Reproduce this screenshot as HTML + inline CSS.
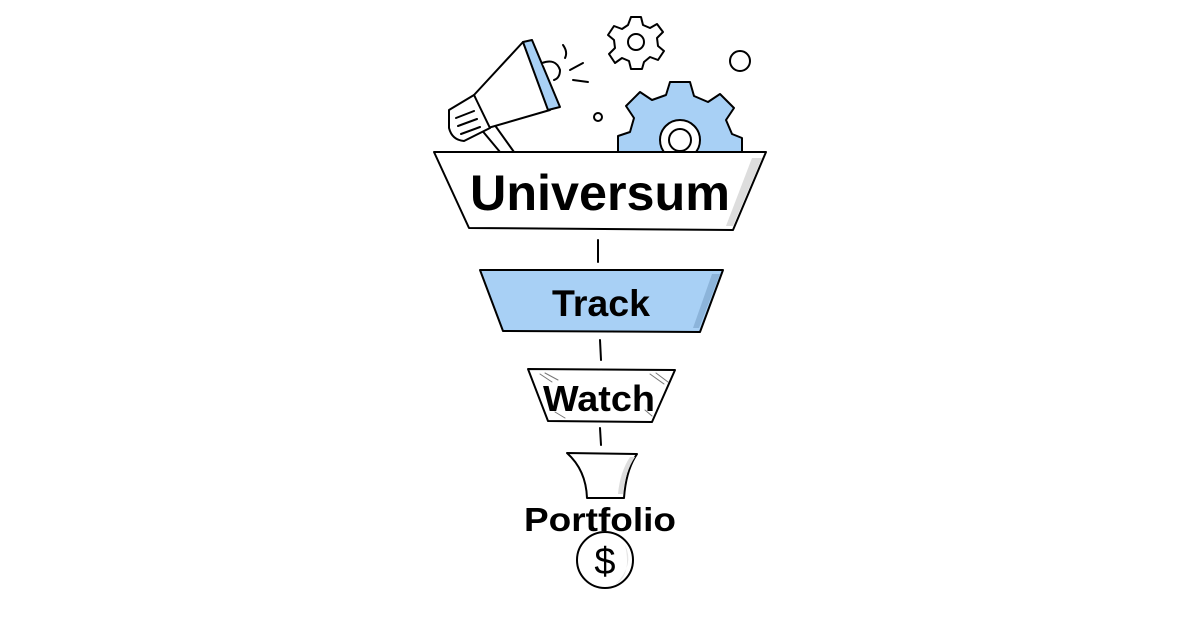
<!DOCTYPE html>
<html><head><style>
html,body{margin:0;padding:0;background:#fff;width:1200px;height:630px;overflow:hidden}
svg{display:block}
text{font-family:"Liberation Sans",sans-serif;font-weight:bold;fill:#000;text-anchor:middle}
</style></head><body>
<svg width="1200" height="630" viewBox="0 0 1200 630" xmlns="http://www.w3.org/2000/svg">
<g stroke="#000" stroke-width="2" stroke-linejoin="round" stroke-linecap="round">
<g transform="translate(636,42)">
<path fill="#fff" d="M-5,-25 L5,-25 L7,-17 L14,-14 L21,-18 L27,-10 L21,-4 L22,4 L28,9 L22,18 L14,15 L8,20 L6,27 L-5,27 L-7,19 L-14,16 L-21,21 L-27,12 L-21,6 L-22,-2 L-28,-7 L-22,-16 L-14,-13 L-8,-17 Z"/>
<circle r="8" fill="#fff"/>
</g>
<circle cx="740" cy="61" r="10" fill="#fff"/>
<circle cx="598" cy="117" r="4" fill="#fff"/>
<g transform="translate(680,140)">
<path fill="#a8d0f5" d="M-10,-58 L10,-58 L14,-44 L28,-38 L40,-46 L54,-32 L46,-20 L52,-6 L62,-2 L62,14 L-62,14 L-62,-4 L-50,-8 L-46,-22 L-54,-34 L-40,-48 L-28,-40 L-14,-45 Z"/>
<circle r="20" fill="#fff"/>
<circle r="11" fill="#fff"/>
</g>
<path fill="#fff" d="M480,128 L500,152 L514,152 L494,124 Z"/>
<path fill="#fff" d="M523,42 L474,95 L488,128 L550,110 Z"/>
<path fill="#fff" d="M449,110 L474,95 L490,128 L464,141 Q452,140 449,128 Z"/>
<path fill="none" d="M456,118 L474,111 M458,126 L477,119 M461,134 L480,127"/>
<path fill="#a8d0f5" d="M523,42 L532,40 L560,107 L548,110 Z"/>
<path fill="#fff" d="M542,63 Q556,58 560,70 Q560,78 554,80"/>
<path fill="none" d="M563,45 Q568,52 565,58 M570,70 L583,63 M573,80 L588,82"/>
<path fill="#fff" d="M434,152 L766,152 L733,230 L469,228 Z"/>
<path fill="#ddd" stroke="none" d="M752,158 L762,158 L733,226 L726,226 Z"/>
<line x1="598" y1="240" x2="598" y2="262"/>
<path fill="#a8d0f5" d="M480,270 L723,270 L700,332 L503,331 Z"/>
<path fill="#8cb4da" stroke="none" d="M712,274 L720,274 L699,328 L693,328 Z"/>
<line x1="600" y1="340" x2="601" y2="360"/>
<path fill="#fff" d="M528,369 L675,370 L652,422 L548,421 Z"/>
<path fill="none" stroke-width="1" stroke="#777" d="M540,374 L552,382 M545,373 L558,380 M650,374 L664,384 M656,373 L668,382 M645,410 L652,416 M555,412 L565,418"/>
<line x1="600" y1="428" x2="601" y2="445"/>
<path fill="#fff" d="M567,453 L637,454 Q626,470 624,498 L587,498 Q586,470 567,453 Z"/>
<path fill="#ddd" stroke="none" d="M630,457 L635,457 Q625,472 623,494 L618,494 Q620,472 630,457 Z"/>
<circle cx="605" cy="560" r="28" fill="#fff"/>
<path fill="#e6e6e6" stroke="none" d="M625,545 Q635,565 615,585 Q632,575 625,545 Z"/>
</g>
<text x="600" y="210" font-size="50" textLength="260" lengthAdjust="spacingAndGlyphs">Universum</text>
<text x="601" y="316" font-size="37" textLength="98" lengthAdjust="spacingAndGlyphs">Track</text>
<text x="599" y="411" font-size="36" textLength="112" lengthAdjust="spacingAndGlyphs">Watch</text>
<text x="600" y="531" font-size="33" textLength="152" lengthAdjust="spacingAndGlyphs">Portfolio</text>
<text x="605" y="574" font-size="38" style="font-weight:normal">$</text>
</svg>
</body></html>
